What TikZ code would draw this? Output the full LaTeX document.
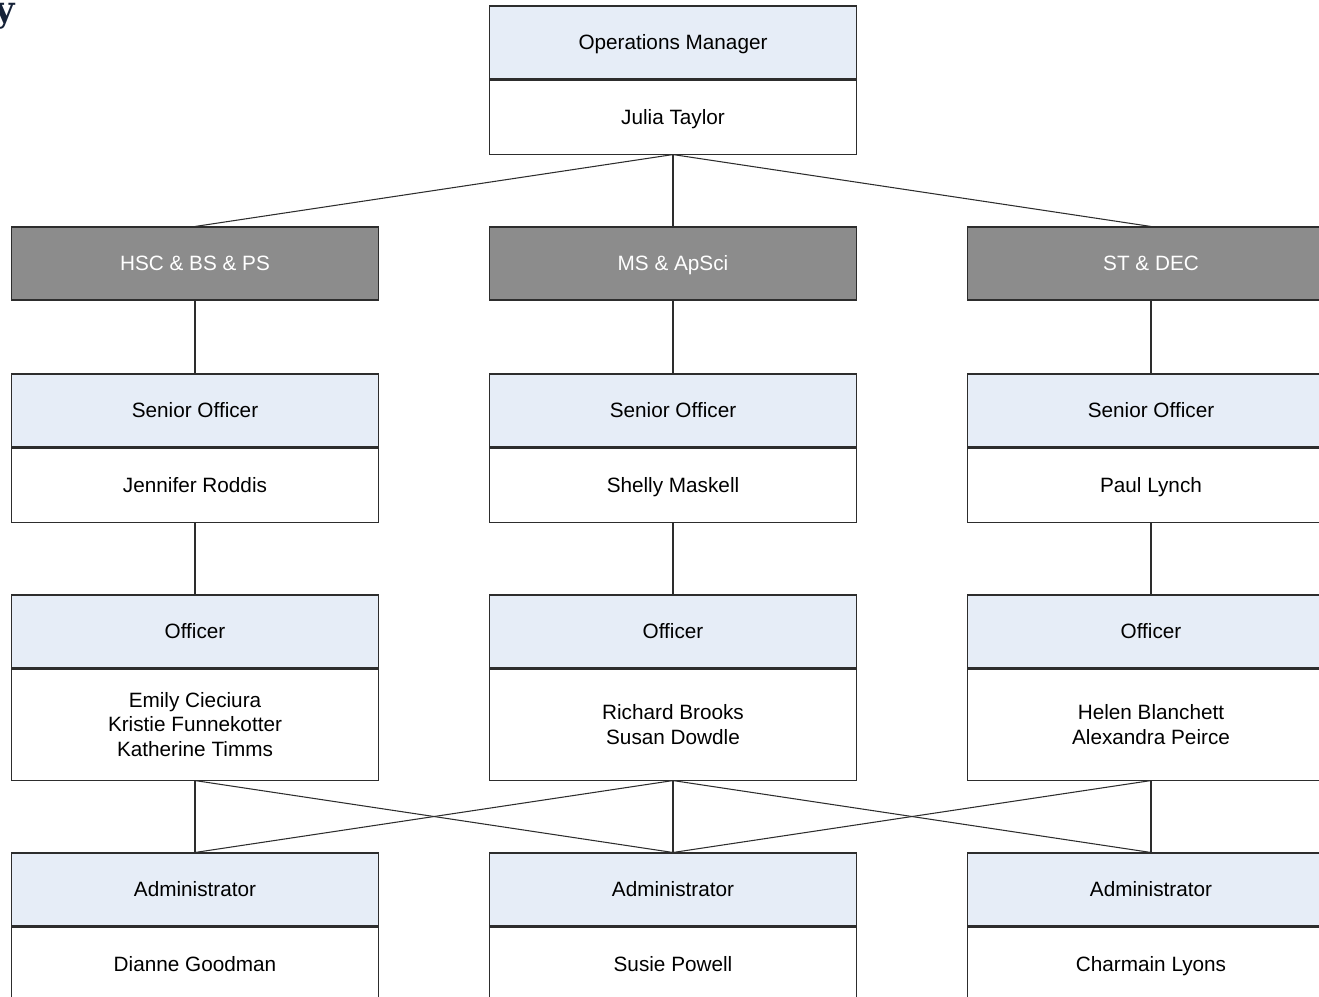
\documentclass[tikz,border=0pt]{standalone}
\usepackage{fontspec}
\setmainfont{Liberation Sans}
\newfontfamily\titlefont{DejaVu Serif}
\usetikzlibrary{positioning}
\definecolor{headblue}{RGB}{230,237,247}
\definecolor{deptgray}{RGB}{140,140,140}
\definecolor{titlenavy}{RGB}{22,34,56}
\definecolor{boxline}{RGB}{45,45,45}

\begin{document}
\begin{tikzpicture}[x=0.02cm, y=-0.02cm,
    every node/.style={font=\fontsize{11.8}{14.2}\selectfont},
    oneline/.style={text height=9.4pt, text depth=1.2pt},
    head/.style={draw=boxline, line width=0.6pt, fill=headblue, minimum width=7.36cm, minimum height=1.46cm, inner sep=0pt, oneline},
    body/.style={draw=boxline, line width=0.6pt, fill=white, minimum width=7.36cm, minimum height=1.48cm, inner sep=0pt, align=center},
    namebox/.style={body, oneline},
    dept/.style={draw=boxline, line width=0.6pt, fill=deptgray, text=white, minimum width=7.36cm, minimum height=1.46cm, inner sep=0pt, oneline},
    link/.style={draw=boxline, line width=0.6pt}]
                \useasboundingbox (0,0) rectangle (1319,997);
                \clip (0,0) rectangle (1319,997);
                % cut-off title
                \node[font=\titlefont\bfseries\fontsize{20}{24}\selectfont, text=titlenavy, anchor=base east, inner sep=0pt] (ttl) at (15,22) {y};
                % manager
                \node[head] (omh) at (673,42.5) {Operations Manager};
                \node[namebox, below=0pt of omh] (omb) {Julia Taylor};
                % departments
                \node[dept] (d1) at (195,263.5) {HSC \& BS \& PS};
                \node[dept] (d2) at (673,263.5) {MS \& ApSci};
                \node[dept] (d3) at (1151,263.5) {ST \& DEC};
                % senior officers
                \node[head] (s1h) at (195,410.5) {Senior Officer};
                \node[namebox, below=0pt of s1h] (s1b) {Jennifer Roddis};
                \node[head] (s2h) at (673,410.5) {Senior Officer};
                \node[namebox, below=0pt of s2h] (s2b) {Shelly Maskell};
                \node[head] (s3h) at (1151,410.5) {Senior Officer};
                \node[namebox, below=0pt of s3h] (s3b) {Paul Lynch};
                % officers
                \node[head] (o1h) at (195,631.5) {Officer};
                \node[body, minimum height=2.22cm, below=0pt of o1h] (o1b) {Emily Cieciura\\Kristie Funnekotter\\Katherine Timms};
                \node[head] (o2h) at (673,631.5) {Officer};
                \node[body, minimum height=2.22cm, below=0pt of o2h] (o2b) {Richard Brooks\\Susan Dowdle};
                \node[head] (o3h) at (1151,631.5) {Officer};
                \node[body, minimum height=2.22cm, below=0pt of o3h] (o3b) {Helen Blanchett\\Alexandra Peirce};
                % administrators
                \node[head] (a1h) at (195,889.5) {Administrator};
                \node[namebox, below=0pt of a1h] (a1b) {Dianne Goodman};
                \node[head] (a2h) at (673,889.5) {Administrator};
                \node[namebox, below=0pt of a2h] (a2b) {Susie Powell};
                \node[head] (a3h) at (1151,889.5) {Administrator};
                \node[namebox, below=0pt of a3h] (a3b) {Charmain Lyons};
                % links
                \draw[link] (omb.south) -- (d1.north);
                \draw[link] (omb.south) -- (d2.north);
                \draw[link] (omb.south) -- (d3.north);
                \draw[link] (d1.south) -- (s1h.north);
                \draw[link] (d2.south) -- (s2h.north);
                \draw[link] (d3.south) -- (s3h.north);
                \draw[link] (s1b.south) -- (o1h.north);
                \draw[link] (s2b.south) -- (o2h.north);
                \draw[link] (s3b.south) -- (o3h.north);
                \draw[link] (o1b.south) -- (a1h.north);
                \draw[link] (o1b.south) -- (a2h.north);
                \draw[link] (o2b.south) -- (a1h.north);
                \draw[link] (o2b.south) -- (a2h.north);
                \draw[link] (o2b.south) -- (a3h.north);
                \draw[link] (o3b.south) -- (a2h.north);
                \draw[link] (o3b.south) -- (a3h.north);
            \end{tikzpicture}
\end{document}
